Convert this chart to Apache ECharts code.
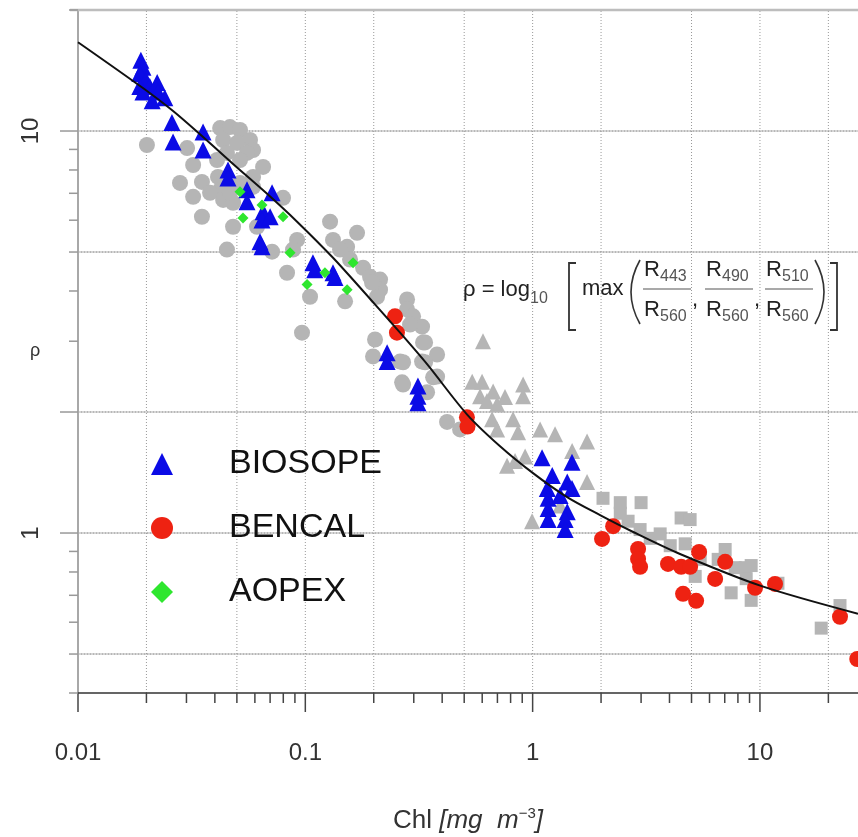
<!DOCTYPE html>
<html><head><meta charset="utf-8">
<script src="https://cdn.jsdelivr.net/npm/echarts@6/dist/echarts.min.js"></script>
<style>html,body{margin:0;padding:0;background:#fff}#c{width:858px;height:837px}</style>
</head><body><div id="c"></div>
<script>
const FONT = '"Liberation Sans", Arial, Helvetica, sans-serif';
const X_MIN = 0.01, X_MAX = 27, Y_MIN = 0.4, Y_MAX = 20;

// tick / grid values
const xMajorTicks = [0.01, 0.1, 1, 10];
const xMinorTicks = [0.02,0.03,0.04,0.05,0.06,0.07,0.08,0.09,0.2,0.3,0.4,0.5,0.6,0.7,0.8,0.9,2,3,4,5,6,7,8,9,20];
const xGridLines = [0.02,0.05,0.1,0.2,0.5,1,2,5,10,20];
const yLongTicks = [1, 2, 10];
const yShortTicks = [0.4,0.5,0.6,0.7,0.8,0.9,3,4,5,6,7,8,9,20];
const yGridLines = [0.5, 1, 2, 5, 10];
const xLabelValues = [0.01, 0.1, 1, 10];
const yLabelValues = [1, 10];

// series data [Chl, rho]
const biosope = [
[0.0189,15.0],[0.0193,14.4],[0.0187,13.9],[0.0199,13.4],[0.0187,12.9],[0.0207,12.9],[0.0223,13.2],[0.0225,12.5],[0.0241,12.1],[0.0212,11.9],[0.0193,12.5],
[0.0259,10.5],[0.0262,9.39],[0.0355,9.94],[0.0355,8.97],[0.0457,8.0],[0.0457,7.64],[0.0554,7.14],[0.0554,6.67],[0.0714,7.02],[0.0652,6.30],[0.0645,6.01],[0.070,6.12],[0.0632,5.30],[0.0645,5.15],
[0.108,4.70],[0.110,4.52],[0.1324,4.44],[0.1351,4.32],
[0.229,2.81],[0.229,2.67],[0.313,2.32],[0.313,2.19],[0.313,2.11],
[1.10,1.54],[1.49,1.50],[1.22,1.39],[1.42,1.34],[1.16,1.29],[1.49,1.29],[1.17,1.22],[1.17,1.15],[1.17,1.08],[1.42,1.13],[1.39,1.08],[1.39,1.02],[1.32,1.24]
];
const bencal = [
[0.248,3.46],[0.253,3.15],[0.514,1.94],[0.517,1.84],[2.26,1.04],[2.02,0.967],[2.91,0.913],[2.91,0.862],[2.97,0.824],[3.94,0.838],[4.50,0.824],[4.93,0.824],
[4.59,0.706],[5.24,0.678],[5.40,0.897],[7.03,0.848],[6.35,0.769],[9.52,0.731],[11.65,0.747],[22.5,0.619],[26.8,0.486]
];
const aopex = [
[0.0516,7.06],[0.0645,6.55],[0.0532,6.08],[0.0798,6.12],[0.0857,4.98],[0.122,4.44],[0.1018,4.15],[0.1527,4.03],[0.1622,4.70]
];
const otherCircles = [
[0.0201,9.23],[0.0302,9.07],[0.0321,8.23],[0.0281,7.43],[0.0321,6.86],[0.0351,7.47],[0.0351,6.12],
[0.0422,10.17],[0.0466,10.23],[0.0516,10.06],[0.0571,9.50],[0.0589,8.97],[0.0435,9.50],[0.0501,9.34],[0.0554,8.82],[0.0452,8.82],[0.0409,8.47],[0.0516,8.47],[0.0652,8.14],
[0.0413,7.69],[0.0422,7.14],[0.0381,7.02],[0.0435,6.74],[0.0481,6.63],[0.0466,7.02],[0.0516,7.43],[0.0589,7.69],[0.0589,7.26],[0.0798,6.82],[0.0481,5.78],[0.0452,5.07],[0.0714,5.01],[0.0613,5.78],
[0.0920,5.36],[0.0883,5.07],[0.0831,4.44],[0.1285,5.95],[0.1324,5.36],[0.1527,5.15],[0.1689,5.58],[0.1049,3.87],[0.0967,3.15],
[0.1422,5.07],[0.1573,4.79],[0.1795,4.57],[0.1927,4.34],[0.2132,4.27],[0.2132,4.03],[0.2068,3.87],[0.1966,4.20],[0.1496,3.77],
[0.2803,3.81],[0.2803,3.60],[0.2979,3.46],[0.3263,3.26],[0.3364,2.98],[0.2026,3.03],[0.1986,2.75],[0.3799,2.78],[0.3263,2.67],[0.2665,2.37],[0.3799,2.45],[0.3433,2.24],[0.4203,1.89],[0.4795,1.81],[0.2611,2.67],
[0.2889,3.30],[0.3296,2.98],[0.2692,2.66],[0.3364,2.66],[0.3648,2.44],[0.2692,2.34]
];
const otherTriangles = [
[0.605,3.00],[0.542,2.38],[0.599,2.38],[0.670,2.25],[0.756,2.18],[0.908,2.34],[0.908,2.19],[0.587,2.19],[0.630,2.13],[0.698,2.09],[0.663,1.92],[0.820,1.92],
[0.863,1.78],[0.698,1.81],[1.079,1.81],[1.255,1.76],[1.736,1.69],[1.492,1.60],[1.736,1.34],[0.837,1.51],[0.927,1.55],[0.994,1.07],[1.321,1.17],[0.772,1.47]
];
const otherSquares = [
[2.04,1.22],[2.43,1.19],[3.00,1.19],[2.43,1.12],[2.63,1.07],[2.97,1.02],[3.29,0.97],[4.50,1.09],[4.93,1.08],[4.03,0.93],[4.69,0.94],[5.19,0.78],
[7.03,0.91],[6.55,0.86],[8.61,0.82],[9.15,0.83],[7.47,0.71],[9.15,0.68],[8.70,0.77],[12.0,0.75],[22.5,0.66],[18.6,0.58],[3.64,0.995],[5.46,0.86],[7.78,0.82]
];
// fitted curve
const fitChl = [0.01,0.0193,0.0262,0.0355,0.0481,0.0679,0.092,0.1324,0.174,0.2611,0.3433,0.514,0.719,1.004,1.418,1.98,2.77,4.45,10.1,27];
const fitRho = [16.63,12.79,11.21,9.66,8.28,6.98,5.95,4.84,4.08,3.15,2.63,1.974,1.644,1.409,1.228,1.108,1.006,0.887,0.739,0.630];

const isIn = (v, arr) => arr.some(a => Math.abs(Math.log10(v) - Math.log10(a)) < 1e-4);
const fmt = v => String(Number(v.toPrecision(6)));

function vLines(values, style, z) {
  return { type: 'custom', silent: true, clip: false, z: z,
    data: values.map(v => [v, Y_MIN]),
    renderItem: (p, api) => {
      const v = api.value(0);
      const a = api.coord([v, Y_MIN]), b = api.coord([v, Y_MAX]);
      return { type: 'line', shape: { x1: a[0], y1: a[1], x2: b[0], y2: b[1] }, style: Object.assign({}, style) };
    } };
}
function hLines(values, style, z, ext) {
  return { type: 'custom', silent: true, clip: false, z: z,
    data: values.map(v => [X_MIN, v]),
    renderItem: (p, api) => {
      const v = api.value(1);
      const a = api.coord([X_MIN, v]), b = api.coord([X_MAX, v]);
      return { type: 'line', shape: { x1: a[0] - (ext || 0), y1: a[1], x2: b[0], y2: b[1] }, style: Object.assign({}, style) };
    } };
}
function xTicks(values, len, style) {
  return { type: 'custom', silent: true, clip: false, z: 4,
    data: values.map(v => [v, Y_MIN]),
    renderItem: (p, api) => {
      const a = api.coord([api.value(0), Y_MIN]);
      return { type: 'line', shape: { x1: a[0], y1: a[1], x2: a[0], y2: a[1] + len }, style: Object.assign({}, style) };
    } };
}
function yTicks(values, len, style) {
  return { type: 'custom', silent: true, clip: false, z: 4,
    data: values.map(v => [X_MIN, v]),
    renderItem: (p, api) => {
      const a = api.coord([X_MIN, api.value(1)]);
      return { type: 'line', shape: { x1: a[0] - len, y1: a[1], x2: a[0], y2: a[1] }, style: Object.assign({}, style) };
    } };
}

const T = (text, x, y, size, fill) => ({ type: 'text', x: x, y: y, silent: true, z: 20,
  style: { text: text, fontSize: size, fontFamily: FONT, fill: fill || '#222', align: 'left', verticalAlign: 'middle', textAlign: 'left', textVerticalAlign: 'middle' } });
const L = (pts, w) => ({ type: 'polyline', silent: true, z: 20, shape: { points: pts }, style: { stroke: '#333', lineWidth: w || 1.6, fill: null } });
const B = (x1, y1, x2, y2, cx, cy) => ({ type: 'bezierCurve', silent: true, z: 20, shape: { x1, y1, x2, y2, cpx1: cx, cpy1: cy }, style: { stroke: '#333', lineWidth: 1.6, fill: null } });

const formula = [
  T('ρ = log', 463, 290, 22),
  T('10', 530, 299, 16, '#555'),
  L([[576,263],[569,263],[569,330],[576,330]], 1.8),
  T('max', 582, 289, 22),
  B(640, 260, 640, 324, 622, 292),
  B(815, 260, 815, 324, 833, 292),
  L([[830,263],[837,263],[837,330],[830,330]], 1.8),
  T(',', 692, 300, 22), T(',', 754, 300, 22),
  T('ρ', 30, 351, 18, '#333')
];
const fracNums = ['443', '490', '510'];
const fracLeft = [644, 706, 766];
fracNums.forEach((n, i) => {
  const x = fracLeft[i];
  formula.push(T('R', x, 270, 22), T(n, x + 16, 277, 16, '#555'),
    { type: 'line', silent: true, z: 20, shape: { x1: x - 1, y1: 289, x2: x + 47, y2: 289 }, style: { stroke: '#555', lineWidth: 1.2 } },
    T('R', x, 310, 22), T('560', x + 16, 317, 16, '#555'));
});

const chart = echarts.init(document.getElementById('c'), null, { renderer: 'canvas' });
chart.setOption({
  animation: false,
  backgroundColor: '#fff',
  grid: { left: 78, top: 10, right: 0, bottom: 144, containLabel: false, outerBoundsMode: 'none' },
  xAxis: {
    type: 'log', logBase: 10, min: X_MIN, max: X_MAX,
    axisLine: { show: true, lineStyle: { color: '#333', width: 1.5 } },
    axisTick: { show: false }, splitLine: { show: false }, minorTick: { show: false },
    axisLabel: { margin: 48, fontSize: 24, fontFamily: FONT, color: '#333',
      formatter: v => isIn(v, xLabelValues) ? fmt(v) : '' },
    name: '{a|Chl }{b|[mg  m}{c|−3}{b|]}', nameLocation: 'middle', nameGap: 113, nameMoveOverlap: false,
    nameTextStyle: { fontSize: 26, fontFamily: FONT, color: '#333',
      rich: { a: { fontSize: 26, fontFamily: FONT, color: '#333', lineHeight: 30 },
              b: { fontSize: 26, fontFamily: FONT, fontStyle: 'italic', color: '#333', lineHeight: 30 },
              c: { fontSize: 15, fontFamily: FONT, color: '#333', lineHeight: 14, verticalAlign: 'top' } } }
  },
  yAxis: {
    type: 'log', logBase: 10, min: Y_MIN, max: Y_MAX,
    axisLine: { show: true, lineStyle: { color: '#a8a8a8', width: 2 } },
    axisTick: { show: false }, splitLine: { show: false }, minorTick: { show: false },
    axisLabel: { rotate: 90, margin: 35, fontSize: 24, fontFamily: FONT, color: '#333',
      formatter: v => isIn(v, yLabelValues) ? fmt(v) : '' }
  },
  legend: {
    data: [{ name: 'BIOSOPE', icon: 'triangle' }, { name: 'BENCAL', icon: 'circle' }, { name: 'AOPEX', icon: 'diamond' }],
    orient: 'vertical', left: 151, top: 447, itemWidth: 22, itemHeight: 22, itemGap: 30, padding: 0,
    selectedMode: false,
    formatter: n => '{g| }{t|' + n + '}',
    textStyle: { rich: { g: { width: 51 }, t: { fontSize: 34, fontFamily: FONT, color: '#111', lineHeight: 40 } } }
  },
  graphic: { elements: formula },
  series: [
    hLines(yGridLines, { stroke: '#d6d6d6', lineWidth: 2 }, 0, 0),
    hLines(yGridLines, { stroke: '#999', lineWidth: 1, lineDash: [1, 2] }, 0, 0),
    vLines(xGridLines, { stroke: '#999', lineWidth: 1, lineDash: [1, 2] }, 0),
    hLines([Y_MAX], { stroke: '#bdbdbd', lineWidth: 2.5 }, 1, 8),
    xTicks(xMajorTicks, 19, { stroke: '#444', lineWidth: 1.5 }),
    xTicks(xMinorTicks, 10, { stroke: '#444', lineWidth: 1.5 }),
    yTicks(yLongTicks, 18, { stroke: '#999', lineWidth: 1.5 }),
    yTicks(yShortTicks, 9, { stroke: '#999', lineWidth: 1.5 }),
    { name: 'other-circles', type: 'scatter', data: otherCircles, symbol: 'circle', symbolSize: 16, itemStyle: { color: '#b5b5b5', opacity: 1 }, z: 2 },
    { name: 'other-triangles', type: 'scatter', data: otherTriangles, symbol: 'triangle', symbolSize: 16, itemStyle: { color: '#b5b5b5', opacity: 1 }, z: 2 },
    { name: 'other-squares', type: 'scatter', data: otherSquares, symbol: 'rect', symbolSize: 13, itemStyle: { color: '#b5b5b5', opacity: 1 }, z: 2 },
    { name: 'BIOSOPE', type: 'scatter', data: biosope, symbol: 'triangle', symbolSize: 17, itemStyle: { color: '#0b0be6', opacity: 1 }, z: 3 },
    { name: 'BENCAL', type: 'scatter', data: bencal, symbol: 'circle', symbolSize: 16, itemStyle: { color: '#ee2212', opacity: 1 }, z: 3 },
    { name: 'AOPEX', type: 'scatter', data: aopex, symbol: 'diamond', symbolSize: 11, itemStyle: { color: '#2ee62e', opacity: 1 }, z: 3 },
    { name: 'fit', type: 'line', data: fitChl.map((c, i) => [c, fitRho[i]]), smooth: 0.3, symbol: 'none',
      lineStyle: { color: '#111', width: 2 }, z: 5, silent: true }
  ]
});
</script></body></html>
